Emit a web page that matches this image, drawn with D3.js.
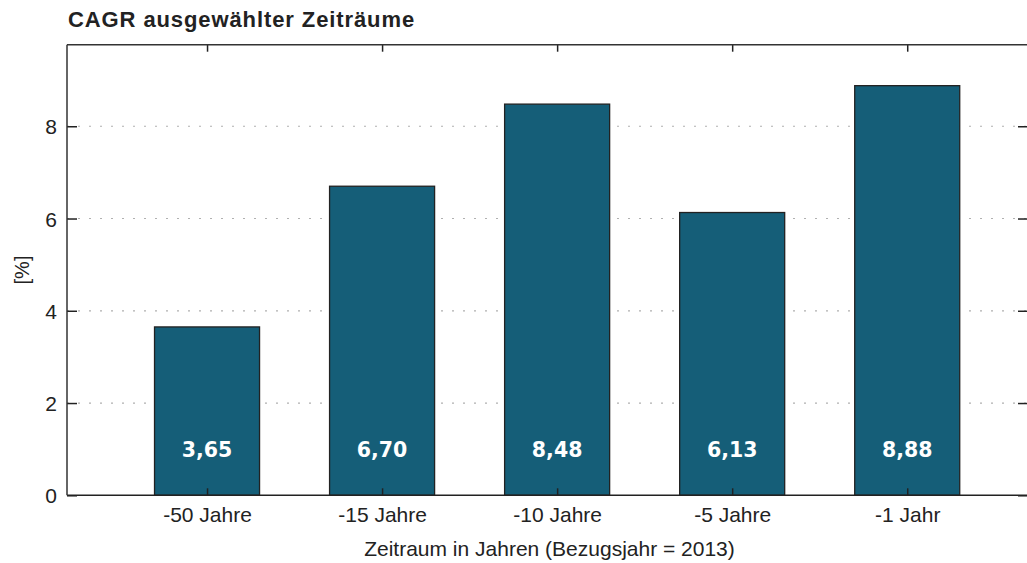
<!DOCTYPE html>
<html>
<head>
<meta charset="utf-8">
<script src="https://cdn.jsdelivr.net/npm/d3@7/dist/d3.min.js"></script>
<style>
  html, body { margin: 0; padding: 0; background: #fff; }
  svg { display: block; }
  text { font-family: "Liberation Sans", Arial, Helvetica, sans-serif; fill: #222; }
</style>
</head>
<body>
<svg id="chart" width="1027" height="563"></svg>
<script>
// Chart data
const categories = ["-50 Jahre", "-15 Jahre", "-10 Jahre", "-5 Jahre", "-1 Jahr"];
const cagrValues = [3.65, 6.70, 8.48, 6.13, 8.88];
const valueLabels = ["3,65", "6,70", "8,48", "6,13", "8,88"];
const yTicks = [0, 2, 4, 6, 8];
const titleText = "CAGR ausgewählter Zeiträume";
const xAxisTitle = "Zeitraum in Jahren (Bezugsjahr = 2013)";
const yAxisTitle = "[%]";

const svg = d3.select("#chart");

const plot = { left: 67, right: 1028, top: 44.7, bottom: 495.3 };
const barColor = "#155e78";
const axisColor = "#333";

// Categories are placed at positions 1..5 on a linear axis
const x = d3.scaleLinear()
  .domain([0.2, 5.69])
  .range([plot.left, plot.right]);

const y = d3.scaleLinear()
  .domain([0, d3.max(cagrValues) * 1.1])
  .range([plot.bottom, plot.top]);

const barHalf = 0.3;

// Dotted horizontal grid lines
svg.append("g")
  .selectAll("line")
  .data(yTicks.filter(t => t > 0))
  .join("line")
  .attr("x1", plot.left)
  .attr("x2", plot.right)
  .attr("y1", d => y(d))
  .attr("y2", d => y(d))
  .attr("stroke", "#b0b0b0")
  .attr("stroke-width", 1.2)
  .attr("stroke-dasharray", "2,9");

// Bars
svg.append("g")
  .selectAll("rect")
  .data(cagrValues)
  .join("rect")
  .attr("x", (d, i) => x(i + 1 - barHalf))
  .attr("width", (d, i) => x(i + 1 + barHalf) - x(i + 1 - barHalf))
  .attr("y", d => y(d))
  .attr("height", d => y(0) - y(d))
  .attr("fill", barColor)
  .attr("stroke", "#222")
  .attr("stroke-width", 1.3);

// Value labels inside bars
svg.append("g")
  .selectAll("text")
  .data(cagrValues)
  .join("text")
  .attr("x", (d, i) => x(i + 1))
  .attr("y", y(1))
  .attr("dy", "0.36em")
  .attr("text-anchor", "middle")
  .style("font-family", "'DejaVu Sans', sans-serif")
  .style("font-weight", "bold")
  .style("font-size", "20.5px")
  .style("fill", "#fff")
  .text((d, i) => valueLabels[i]);

// Styling helper for axes
function styleAxis(g) {
  g.select(".domain").remove();
  g.selectAll(".tick line").attr("stroke", "#222").attr("stroke-width", 1.5);
  g.selectAll(".tick text")
    .style("font-family", "'Liberation Sans', Arial, sans-serif")
    .style("font-size", "21px")
    .attr("fill", "#222");
}

// Left axis with inward ticks
svg.append("g")
  .attr("transform", `translate(${plot.left},0)`)
  .call(d3.axisLeft(y).tickValues(yTicks).tickSizeInner(-10).tickSizeOuter(0).tickPadding(10))
  .call(styleAxis)
  .call(g => g.selectAll(".tick text").attr("dy", "0.36em"));

// Right mirror ticks
svg.append("g")
  .attr("transform", `translate(${plot.right},0)`)
  .call(d3.axisRight(y).tickValues(yTicks).tickSizeInner(-10).tickSizeOuter(0).tickFormat(""))
  .call(styleAxis);

// Top mirror ticks at category centers
svg.append("g")
  .attr("transform", `translate(0,${plot.top})`)
  .call(d3.axisTop(x).tickValues([1, 2, 3, 4, 5]).tickSizeInner(-7).tickSizeOuter(0).tickFormat(""))
  .call(styleAxis);

// Bottom axis with category labels
svg.append("g")
  .attr("transform", `translate(0,${plot.bottom})`)
  .call(d3.axisBottom(x).tickValues([1, 2, 3, 4, 5]).tickSizeInner(-7).tickSizeOuter(0)
    .tickPadding(12).tickFormat(d => categories[d - 1]))
  .call(styleAxis);

// Frame lines
const frame = svg.append("g").attr("stroke", axisColor).attr("stroke-width", 1.5).attr("fill", "none");
frame.append("line").attr("x1", plot.left).attr("x2", plot.right).attr("y1", plot.top).attr("y2", plot.top);
frame.append("line").attr("x1", plot.left).attr("x2", plot.right).attr("y1", plot.bottom).attr("y2", plot.bottom).attr("stroke", "#222");
frame.append("line").attr("x1", plot.left).attr("x2", plot.left).attr("y1", plot.top).attr("y2", plot.bottom);
frame.append("line").attr("x1", plot.right).attr("x2", plot.right).attr("y1", plot.top).attr("y2", plot.bottom);

// Title
svg.append("text")
  .attr("x", 68)
  .attr("y", 27)
  .style("font-weight", "bold")
  .style("font-size", "22px")
  .style("letter-spacing", "0.9px")
  .text(titleText);

// X axis title
svg.append("text")
  .attr("x", (plot.left + plot.right) / 2 + 2)
  .attr("y", 556)
  .attr("text-anchor", "middle")
  .style("font-size", "21px")
  .text(xAxisTitle);

// Y axis title
svg.append("text")
  .attr("transform", `translate(29,${(plot.top + plot.bottom) / 2}) rotate(-90)`)
  .attr("text-anchor", "middle")
  .style("font-size", "20px")
  .text(yAxisTitle);
</script>
</body>
</html>
